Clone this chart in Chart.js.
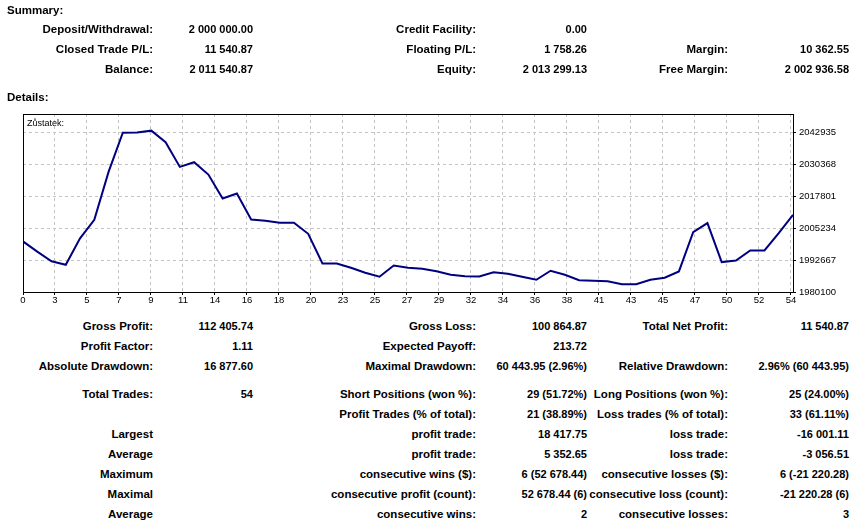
<!DOCTYPE html>
<html>
<head>
<meta charset="utf-8">
<script src="https://cdn.jsdelivr.net/npm/chart.js@4/dist/chart.umd.min.js"></script>
<style>
  body { margin: 0; background: #fff; }
  #page { position: relative; width: 856px; height: 527px; overflow: hidden;
          font-family: "Liberation Sans", Arial, sans-serif; color: #000; }
  .t { position: absolute; white-space: nowrap; height: 16px; line-height: 16px;
       font-size: 11px; font-weight: bold; }
  .lbl { font-size: 11.5px; }
  .r { text-align: right; }
  #balanceChart { position: absolute; left: 0; top: 105px; }
  #chartTitle { position: absolute; left: 27px; top: 116px; font-size: 9px; line-height: 14px; }
</style>
</head>
<body>
<div id="page">
  <canvas id="balanceChart" width="856" height="205"></canvas>
  <div id="chartTitle">Zůstatek:</div>
</div>
<script>
// balance after each trade (index 0 = initial deposit)
var balance = [
  2000000, 1996000, 1992200, 1990820, 2001230, 2008500, 2027350, 2042780, 2042850, 2043566,
  2039010, 2029310, 2031150, 2026290, 2016860, 2018820, 2008610, 2008100, 2007320, 2007320,
  2003000, 1991330, 1991330, 1989650, 1987680, 1986110, 1990550, 1989650, 1989250, 1988270,
  1986900, 1986310, 1986230, 1987880, 1987290, 1986110, 1984930, 1988470, 1986900, 1984740,
  1984540, 1984340, 1983122, 1983122, 1984930, 1985720, 1988190, 2003670, 2007200, 1991880,
  1992510, 1996440, 1996440, 2003270, 2010460
];
var tradeIndex = balance.map(function (v, i) { return i; });

var xTickLabels = ['0','3','5','7','9','11','14','16','18','20','23','25','27','29',
                   '32','34','36','38','41','43','45','47','50','52','54'];
var xTickStep = 2.244;   // grid spacing in trades
var yTickValues = [1980100, 1992667, 2005234, 2017801, 2030368, 2042935];
var yMin = 1980100, yMax = 2050120;

var summaryRows = [
  [29, 'Deposit/Withdrawal:', '2 000 000.00', 'Credit Facility:', '0.00', '', ''],
  [49, 'Closed Trade P/L:', '11 540.87', 'Floating P/L:', '1 758.26', 'Margin:', '10 362.55'],
  [69, 'Balance:', '2 011 540.87', 'Equity:', '2 013 299.13', 'Free Margin:', '2 002 936.58']
];
var detailRows = [
  [326, 'Gross Profit:', '112 405.74', 'Gross Loss:', '100 864.87', 'Total Net Profit:', '11 540.87'],
  [346, 'Profit Factor:', '1.11', 'Expected Payoff:', '213.72', '', ''],
  [366, 'Absolute Drawdown:', '16 877.60', 'Maximal Drawdown:', '60 443.95 (2.96%)', 'Relative Drawdown:', '2.96% (60 443.95)'],
  [394, 'Total Trades:', '54', 'Short Positions (won %):', '29 (51.72%)', 'Long Positions (won %):', '25 (24.00%)'],
  [414, '', '', 'Profit Trades (% of total):', '21 (38.89%)', 'Loss trades (% of total):', '33 (61.11%)'],
  [434, 'Largest', '', 'profit trade:', '18 417.75', 'loss trade:', '-16 001.11'],
  [454, 'Average', '', 'profit trade:', '5 352.65', 'loss trade:', '-3 056.51'],
  [474, 'Maximum', '', 'consecutive wins ($):', '6 (52 678.44)', 'consecutive losses ($):', '6 (-21 220.28)'],
  [494, 'Maximal', '', 'consecutive profit (count):', '52 678.44 (6)', 'consecutive loss (count):', '-21 220.28 (6)'],
  [514, 'Average', '', 'consecutive wins:', '2', 'consecutive losses:', '3']
];
// right edges of the six text columns
var colRight = [153, 253, 476, 587, 728, 849];

var page = document.getElementById('page');

function addText(text, x, cy, alignRight, isLabel) {
  if (!text) return;
  var d = document.createElement('div');
  d.className = 't' + (alignRight ? ' r' : '') + (isLabel ? ' lbl' : '');
  d.textContent = text;
  d.style.top = (cy - 8) + 'px';
  if (alignRight) {
    d.style.left = (x - 300) + 'px';
    d.style.width = '300px';
  } else {
    d.style.left = x + 'px';
  }
  page.appendChild(d);
}

addText('Summary:', 7, 10, false, true);
addText('Details:', 7, 97, false, true);
summaryRows.concat(detailRows).forEach(function (row) {
  for (var c = 0; c < 6; c++) addText(row[c + 1], colRight[c], row[0], true, c % 2 === 0);
});

// black frame round the plot area
var frame = {
  id: 'frame',
  afterDatasetsDraw: function (chart) {
    var ctx = chart.ctx, a = chart.chartArea;
    ctx.save();
    ctx.strokeStyle = '#000';
    ctx.lineWidth = 1;
    ctx.strokeRect(Math.round(a.left) + 0.5, Math.round(a.top) + 0.5,
                   Math.round(a.right - a.left), Math.round(a.bottom - a.top));
    ctx.restore();
  }
};

var ctx = document.getElementById('balanceChart').getContext('2d');
new Chart(ctx, {
  type: 'line',
  data: {
    labels: tradeIndex,
    datasets: [{
      data: balance.map(function (v, i) { return { x: tradeIndex[i], y: v }; }),
      borderColor: '#000080',
      borderWidth: 2,
      pointRadius: 0,
      tension: 0,
      fill: false
    }]
  },
  plugins: [frame],
  options: {
    responsive: false,
    animation: false,
    events: [],
    layout: { padding: { left: 23, top: 9, right: 0, bottom: 0 } },
    plugins: { legend: { display: false }, tooltip: { enabled: false } },
    scales: {
      x: {
        type: 'linear',
        min: 0,
        max: 54,
        afterBuildTicks: function (scale) {
          scale.ticks = xTickLabels.map(function (l, k) { return { value: k * xTickStep }; });
        },
        afterFit: function (scale) { scale.height = 18; },
        border: { display: false, dash: [3, 3] },
        grid: { color: '#c4c4c4', tickColor: '#000', tickLength: 3, tickBorderDash: [] },
        ticks: {
          autoSkip: false,
          maxRotation: 0,
          padding: 0,
          color: '#000',
          font: { family: 'Liberation Sans', size: 9.5 },
          callback: function (v, i) { return xTickLabels[i]; }
        }
      },
      y: {
        position: 'right',
        min: yMin,
        max: yMax,
        afterBuildTicks: function (scale) {
          scale.ticks = yTickValues.map(function (v) { return { value: v }; });
        },
        afterFit: function (scale) { scale.width = 63; },
        border: { display: false, dash: [3, 3] },
        grid: { color: '#c4c4c4', tickColor: '#000', tickLength: 3, tickBorderDash: [] },
        ticks: {
          padding: 3,
          color: '#000',
          font: { family: 'Liberation Sans', size: 9.5 },
          callback: function (v) { return String(v); }
        }
      }
    }
  }
});
</script>
</body>
</html>
